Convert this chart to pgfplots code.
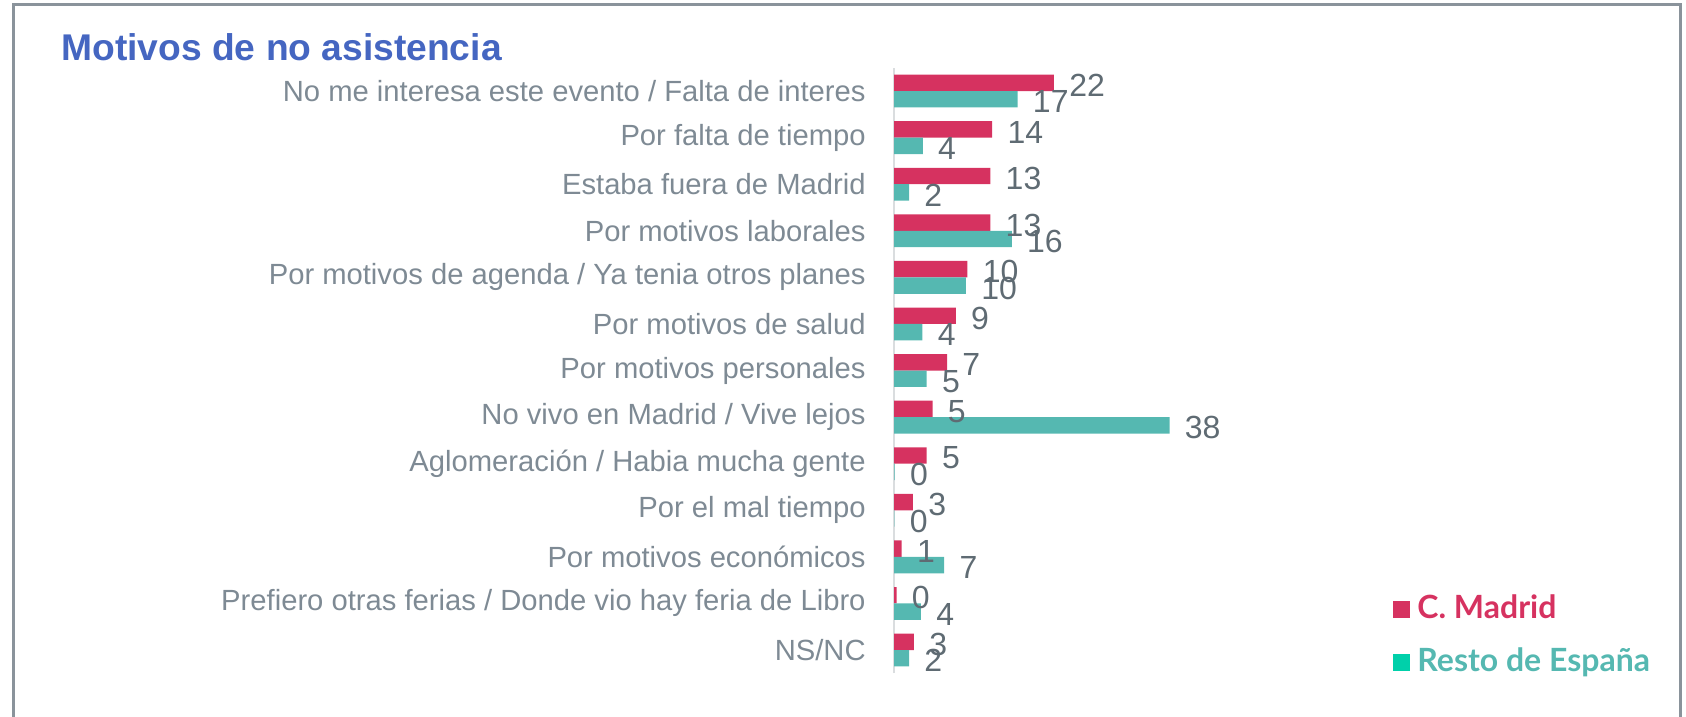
\documentclass[border=0pt]{standalone}
\usepackage{fontspec}
\setmainfont{Liberation Sans}
\newfontfamily\lato{Lato}
\usepackage{pgfplots}
\usepackage{pgfplotstable}
\pgfplotsset{compat=1.18}
\definecolor{cM}{HTML}{D63260}
\definecolor{cR}{HTML}{55B8B1}
\definecolor{cRleg}{HTML}{00D0AA}
\definecolor{ttl}{HTML}{4566C1}
\definecolor{cat}{HTML}{7E8A94}
\definecolor{val}{HTML}{5F6B73}
\definecolor{frm}{HTML}{8A939B}
\definecolor{axl}{HTML}{DADDDF}

\pgfplotstableread{
y m ml r rl
12 22 22 17 17
11 13.5 14 3.96 4
10 13.25 13 2.07 2
9 13.25 13 16.2 16
8 10.1 10 9.9 10
7 8.5 9 3.9 4
6 7.3 7 4.5 5
5 5.3 5 37.9 38
4 4.5 5 0.1 0
3 2.6 3 0.05 0
2 1.05 1 6.9 7
1 0.35 0 3.7 4
0 2.75 3 2.07 2
}\data

\begin{document}
\begin{tikzpicture}
\path[use as bounding box] (0,0) rectangle (843pt,-358.5pt);
\draw[frm, line width=1.5pt] (6.5pt,-2.5pt) rectangle (840pt,-380pt);
\node[anchor=base west, font=\bfseries\fontsize{18.6}{20}\selectfont, text=ttl, inner sep=0pt] at (30.5pt,-30.5pt) {Motivos de no asistencia};
\begin{axis}[
 at={(447pt,-336.65pt)}, anchor=south west,
 scale only axis, width=145.4pt, height=302.77pt,
 xmin=0, xmax=40, ymin=-0.5, ymax=12.5,
 xbar, bar width=8.2pt,
 axis x line=none, axis y line*=left,
 y axis line style={draw=axl, line width=0.8pt, -},
 ytick={0,...,12},
 yticklabels={NS/NC, Prefiero otras ferias / Donde vio hay feria de Libro, Por motivos económicos, Por el mal tiempo, Aglomeración / Habia mucha gente, No vivo en Madrid / Vive lejos, Por motivos personales, Por motivos de salud, Por motivos de agenda / Ya tenia otros planes, Por motivos laborales, Estaba fuera de Madrid, Por falta de tiempo, No me interesa este evento / Falta de interes},
 major tick length=0pt,
 yticklabel style={font=\fontsize{14.6}{16}\selectfont, text=cat, inner sep=0pt, xshift=-14pt},
 nodes near coords, point meta=explicit symbolic,
 every node near coord/.append style={font=\fontsize{16}{18}\selectfont, text=val, anchor=west, inner sep=0pt, xshift=7.5pt, yshift=-1.3pt},
 clip=false,
 legend style={draw=none, fill=none, at={(1.716,0.13)}, anchor=north west, inner sep=0pt,
   row sep=11.3pt, column sep=3.5pt, font=\lato\bfseries\fontsize{16}{18}\selectfont,
   nodes={inner sep=0pt, text height=12pt, text depth=3pt}},
 legend cell align=left,
]
\addplot[fill=cM, draw=none, bar shift=4.1pt,
  legend image code/.code={\fill[cM] (0pt,-4.25pt) rectangle (8.5pt,4.25pt);}]
  table[x=m, y=y, meta=ml] {\data};
\addlegendentry{\textcolor{cM}{C. Madrid}}
\addplot[fill=cR, draw=none, bar shift=-4.1pt,
  legend image code/.code={\fill[cRleg] (0pt,-4.25pt) rectangle (8.5pt,4.25pt);}]
  table[x=r, y=y, meta=rl] {\data};
\addlegendentry{\textcolor{cR}{Resto de España}}
\end{axis}
\end{tikzpicture}
\end{document}
